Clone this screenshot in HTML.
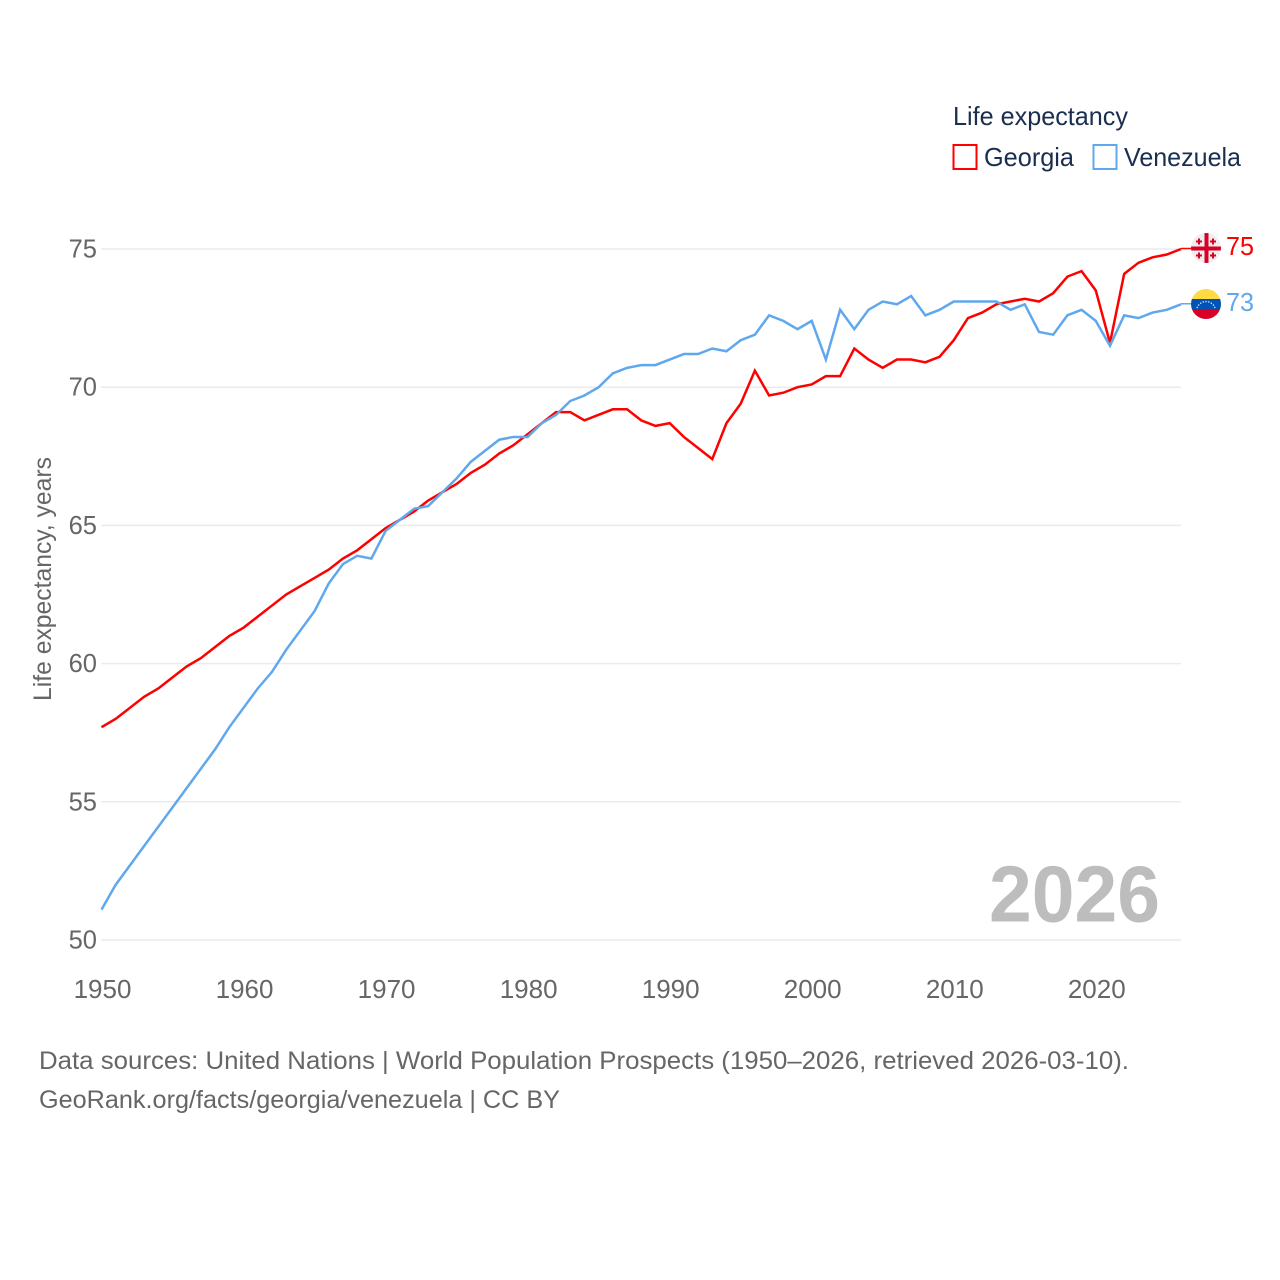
<!DOCTYPE html>
<html lang="en">
<head>
<meta charset="utf-8">
<title>Life expectancy: Georgia and Venezuela</title>
<style>
html,body{margin:0;padding:0;background:#fff;}
svg{display:block;}
text{font-family:"Liberation Sans",sans-serif;}
</style>
</head>
<body>
<svg id="chart" width="1280" height="1280" viewBox="0 0 1280 1280" xmlns="http://www.w3.org/2000/svg">
  <defs>
    <clipPath id="flag-clip-ge"><circle cx="1206" cy="248" r="15"/></clipPath>
    <clipPath id="flag-clip-ve"><circle cx="1206" cy="304" r="15"/></clipPath>
  </defs>
  <rect width="1280" height="1280" fill="#fff"/>
  <g id="grid"></g>
  <g id="y-ticks"></g>
  <g id="x-ticks"></g>
  <text transform="translate(51,701) rotate(-90)" font-size="25" fill="#666" textLength="244" lengthAdjust="spacingAndGlyphs">Life expectancy, years</text>

  <text x="989" y="921.500" font-size="80" font-weight="700" fill="#bdbdbd" textLength="171" lengthAdjust="spacingAndGlyphs">2026</text>

  <g id="series"></g>

  <g>
    <text x="953" y="125" font-size="26" fill="#1a2f4f" textLength="175" lengthAdjust="spacingAndGlyphs">Life expectancy</text>
    <g>
      <rect x="953.5" y="145" width="23" height="24" fill="#fff" stroke="#ff0000" stroke-width="2"/>
      <text x="984" y="166" font-size="26" fill="#1a2f4f" textLength="90" lengthAdjust="spacingAndGlyphs">Georgia</text>
    </g>
    <g>
      <rect x="1093.5" y="145" width="23" height="24" fill="#fff" stroke="#5fa8ee" stroke-width="2"/>
      <text x="1124" y="166" font-size="26" fill="#1a2f4f" textLength="117" lengthAdjust="spacingAndGlyphs">Venezuela</text>
    </g>
  </g>

  <g clip-path="url(#flag-clip-ge)">
    <rect x="1191" y="233" width="30" height="30" fill="#eeeeee"/>
    <rect x="1204.500" y="233" width="4" height="30" fill="#d80027"/>
    <rect x="1191" y="246.500" width="30" height="4" fill="#d80027"/>
    <path d="M1199 238.500v6M1196 241.500h6M1213 238.500v6M1210 241.500h6M1199 252.500v6M1196 255.500h6M1213 252.500v6M1210 255.500h6" stroke="#d80027" stroke-width="2" fill="none"/>
  </g>
  <g clip-path="url(#flag-clip-ve)">
    <rect x="1191" y="289" width="30" height="10" fill="#ffda44"/>
    <rect x="1191" y="299" width="30" height="10" fill="#0052b4"/>
    <rect x="1191" y="309" width="30" height="10" fill="#d80027"/>
    <path d="M1197 308a9.500 9.500 0 0 1 18 0" fill="none" stroke="#f0f0f0" stroke-width="1.300" stroke-dasharray="1.300 1.500"/>
  </g>
  <text x="1226" y="255" font-size="26" fill="#ff0000" textLength="28" lengthAdjust="spacingAndGlyphs">75</text>
  <text x="1226" y="311" font-size="26" fill="#5fa8ee" textLength="28" lengthAdjust="spacingAndGlyphs">73</text>

  <text x="39" y="1069" font-size="25" fill="#666" textLength="1090" lengthAdjust="spacingAndGlyphs">Data sources: United Nations | World Population Prospects (1950–2026, retrieved 2026-03-10).</text>
  <text x="39" y="1108" font-size="25" fill="#666" textLength="521" lengthAdjust="spacingAndGlyphs">GeoRank.org/facts/georgia/venezuela | CC BY</text>
</svg>
<script>
const startYear = 1950;
const yTickValues = [50, 55, 60, 65, 70, 75];
const xTickValues = [1950, 1960, 1970, 1980, 1990, 2000, 2010, 2020];
const georgiaValues = [57.7,58.0,58.4,58.8,59.1,59.5,59.9,60.2,60.6,61.0,61.3,61.7,62.1,62.5,62.8,63.1,63.4,63.8,64.1,64.5,64.9,65.2,65.5,65.9,66.2,66.5,66.9,67.2,67.6,67.9,68.3,68.7,69.1,69.1,68.8,69.0,69.2,69.2,68.8,68.6,68.7,68.2,67.8,67.4,68.7,69.4,70.6,69.7,69.8,70.0,70.1,70.4,70.4,71.4,71.0,70.7,71.0,71.0,70.9,71.1,71.7,72.5,72.7,73.0,73.1,73.2,73.1,73.4,74.0,74.2,73.5,71.6,74.1,74.5,74.7,74.8,75.0];
const venezuelaValues = [51.1,52.0,52.7,53.4,54.1,54.8,55.5,56.2,56.9,57.7,58.4,59.1,59.7,60.5,61.2,61.9,62.9,63.6,63.9,63.8,64.8,65.2,65.6,65.7,66.2,66.7,67.3,67.7,68.1,68.2,68.2,68.7,69.0,69.5,69.7,70.0,70.5,70.7,70.8,70.8,71.0,71.2,71.2,71.4,71.3,71.7,71.9,72.6,72.4,72.1,72.4,71.0,72.8,72.1,72.8,73.1,73.0,73.3,72.6,72.8,73.1,73.1,73.1,73.1,72.8,73.0,72.0,71.9,72.6,72.8,72.4,71.5,72.6,72.5,72.7,72.8,73.0];

const NS = 'http://www.w3.org/2000/svg';
function xScale(year) { return 101.5 + (year - 1950) * (1181 - 101.5) / 76; }
function yScale(v) { return 940 - (v - 50) * (940 - 249) / 25; }

const grid = document.getElementById('grid');
const yTicks = document.getElementById('y-ticks');
const xTicks = document.getElementById('x-ticks');
const series = document.getElementById('series');

yTickValues.forEach(function (v) {
  const line = document.createElementNS(NS, 'line');
  
  
  line.setAttribute('x1', 101);
  line.setAttribute('x2', 1181);
  line.setAttribute('y1', yScale(v));
  line.setAttribute('y2', yScale(v));
  line.setAttribute('stroke', '#ebebeb');
  line.setAttribute('stroke-width', '1.500');
  grid.appendChild(line);
  const label = document.createElementNS(NS, 'text');
  
  
  label.setAttribute('x', 97);
  label.setAttribute('y', yScale(v) + 8.5);
  label.setAttribute('text-anchor', 'end');
  label.setAttribute('font-size', '25.5');
  label.setAttribute('fill', '#666');
  label.textContent = v;
  yTicks.appendChild(label);
});

xTickValues.forEach(function (year) {
  const label = document.createElementNS(NS, 'text');
  
  
  label.setAttribute('x', xScale(year) + 1);
  label.setAttribute('y', 998);
  label.setAttribute('text-anchor', 'middle');
  label.setAttribute('font-size', '26');
  label.setAttribute('fill', '#666');
  label.textContent = year;
  xTicks.appendChild(label);
});

function toPoints(values) {
  return values.map(function (v, i) {
    return xScale(startYear + i).toFixed(2) + ',' + yScale(v).toFixed(2);
  }).join(' ');
}

function lastValue(values) {
  return values[values.length - 1];
}

const georgiaLine = document.createElementNS(NS, 'polyline');


georgiaLine.setAttribute('points', toPoints(georgiaValues));
georgiaLine.setAttribute('fill', 'none');
georgiaLine.setAttribute('stroke', '#ff0000');
georgiaLine.setAttribute('stroke-width', '2.500');
series.appendChild(georgiaLine);

const georgiaLeader = document.createElementNS(NS, 'line');


georgiaLeader.setAttribute('x1', xScale(startYear + georgiaValues.length - 1));
georgiaLeader.setAttribute('x2', 1191);
georgiaLeader.setAttribute('y1', yScale(lastValue(georgiaValues)) - 0.5);
georgiaLeader.setAttribute('y2', yScale(lastValue(georgiaValues)) - 0.5);
georgiaLeader.setAttribute('stroke', '#ff0000');
georgiaLeader.setAttribute('stroke-width', '1.500');
series.appendChild(georgiaLeader);

const venezuelaLine = document.createElementNS(NS, 'polyline');


venezuelaLine.setAttribute('points', toPoints(venezuelaValues));
venezuelaLine.setAttribute('fill', 'none');
venezuelaLine.setAttribute('stroke', '#5fa8ee');
venezuelaLine.setAttribute('stroke-width', '2.500');
series.appendChild(venezuelaLine);

const venezuelaLeader = document.createElementNS(NS, 'line');


venezuelaLeader.setAttribute('x1', xScale(startYear + venezuelaValues.length - 1));
venezuelaLeader.setAttribute('x2', 1191);
venezuelaLeader.setAttribute('y1', yScale(lastValue(venezuelaValues)) - 0.5);
venezuelaLeader.setAttribute('y2', yScale(lastValue(venezuelaValues)) - 0.5);
venezuelaLeader.setAttribute('stroke', '#5fa8ee');
venezuelaLeader.setAttribute('stroke-width', '1.500');
series.appendChild(venezuelaLeader);
</script>
</body>
</html>
